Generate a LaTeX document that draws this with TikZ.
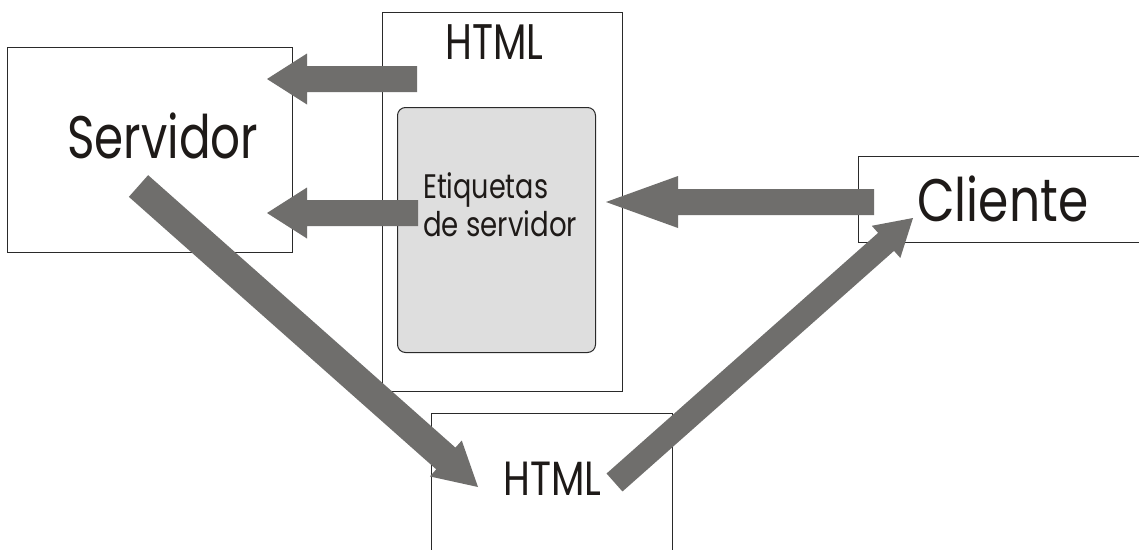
\documentclass[tikz,border=0pt]{standalone}
\usepackage{fontspec}
\setmainfont{Poppins}
\usetikzlibrary{calc}
\definecolor{arrowgray}{HTML}{6F6E6C}
\definecolor{boxline}{HTML}{2A2A2A}
\definecolor{innerfill}{HTML}{DEDEDE}
\definecolor{txt}{HTML}{1E1A18}
% #1 tail, #2 tip, #3 half shaft width, #4 half head width, #5 head length
\newcommand\fatarr[5]{%
  \coordinate (fah) at ($(#2)!#5!(#1)$);
  \fill[arrowgray] ($(#1)!#3!90:(#2)$) -- ($(fah)!#3!90:(#2)$) -- ($(fah)!#4!90:(#2)$) -- (#2)
    -- ($(fah)!#4!-90:(#2)$) -- ($(fah)!#3!-90:(#2)$) -- ($(#1)!#3!-90:(#2)$) -- cycle;
}
\newcommand\fittxt[3]{\resizebox{#1pt}{\height}{\fontsize{#2}{#2}\selectfont #3}}
\begin{document}
\begin{tikzpicture}[x=1pt,y=-1pt,
  box/.style={draw=boxline, line width=1pt, fill=white, inner sep=0pt, anchor=north west},
  lbl/.style={anchor=base west, inner sep=0pt, text=txt}]
\useasboundingbox (0,0) rectangle (1139,549);
\clip (0,0) rectangle (1139,549);
\fill[white] (0,0) rectangle (1139,549);
% boxes
\node[box, minimum width=285pt, minimum height=205pt] (serv) at (7,47) {};
\node[box, minimum width=240pt, minimum height=379pt] (htmltop) at (382,12) {};
\node[box, fill=innerfill, rounded corners=8pt, minimum width=198pt, minimum height=245pt] (tags) at (397,107) {};
\node[box, minimum width=300pt, minimum height=86pt] (cli) at (858,156) {};
\node[box, minimum width=241pt, minimum height=160pt] (htmlbot) at (431,413) {};
% arrow end points
\coordinate (a1t) at (417,79);   \coordinate (a1h) at (267,79);
\coordinate (a2t) at (418,213);  \coordinate (a2h) at (267,213);
\coordinate (a3t) at (874,202);  \coordinate (a3h) at (606,202);
\coordinate (a4t) at (138.5,186); \coordinate (a4h) at (478,487);
\coordinate (a5t) at (614.5,482.5); \coordinate (a5h) at (913,218);
\fatarr{a1t}{a1h}{13pt}{25.5pt}{40pt}
\fatarr{a2t}{a2h}{13pt}{25.5pt}{40pt}
\fatarr{a3t}{a3h}{13pt}{26pt}{72pt}
\fatarr{a4t}{a4h}{14.5pt}{24pt}{43pt}
\fatarr{a5t}{a5h}{12pt}{21.5pt}{36pt}
% labels
\node[lbl] (servlbl) at (67,158) {\fittxt{191}{60}{Servidor}};
\node[lbl] (htmltoplbl) at (445,59) {\fittxt{98}{50}{HTML}};
\node[lbl] (tags1) at (423,198) {\fittxt{125}{34}{Etiquetas}};
\node[lbl] (tags2) at (423,236) {\fittxt{154}{34}{de servidor}};
\node[lbl] (clilbl) at (917,221) {\fittxt{171}{60}{Cliente}};
\node[lbl] (htmlbotlbl) at (503,495) {\fittxt{98}{48}{HTML}};
\end{tikzpicture}
\end{document}
